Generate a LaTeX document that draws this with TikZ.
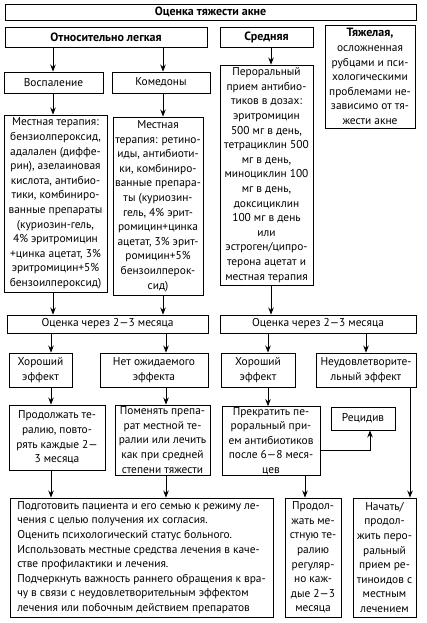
\documentclass[tikz,border=0pt]{standalone}
\usepackage{fontspec}
\setmainfont{PT Sans}
\usetikzlibrary{arrows.meta}
\newcommand\bnode[7][]{\node[bx,minimum width={(#5)-(#3)},minimum height={(#6)-(#4)},#1] (#2) at ({((#3)+(#5))/2},{((#4)+(#6))/2}) {#7};}
\newcommand\hd{\fontsize{12}{14.6}\selectfont\bfseries}
\begin{document}
\begin{tikzpicture}[x=1pt,y=-1pt,
  bx/.style={draw, line width=0.9pt, inner sep=0.5pt, align=center, font=\fontsize{11.4}{14.6}\selectfont},
  arr/.style={-{Stealth[length=7pt,width=5.5pt]}, line width=0.8pt},
  ln/.style={line width=0.8pt}]
\useasboundingbox[fill=white] (0,0) rectangle (426,623);
% column coordinates
\coordinate (xa) at (53,0);
\coordinate (xb) at (163,0);
\coordinate (xc) at (271,0);
\coordinate (xd) at (51,0);
\coordinate (xe) at (166,0);
\coordinate (xf) at (268,0);
\coordinate (xg) at (366,0);
\coordinate (xh) at (305,0);
\coordinate (xi) at (410,0);
\coordinate (xj) at (370,0);
\coordinate (yk) at (0,450);

\bnode{top}{5}{4}{416}{20}{\hd Оценка тяжести акне}
\bnode{light}{5}{27}{207}{47}{\hd Относительно легкая}
\bnode{mid}{220}{27}{313}{47}{\hd Средняя}
\bnode{severe}{325}{25}{415}{128}{{\hd Тяжелая,}\\осложненная\\рубцами и пси-\\хологическими\\проблемами не-\\зависимо от тя-\\жести акне}
\bnode{inflam}{4}{72}{103}{93}{Воспаление}
\bnode{comed}{112}{72}{210}{93}{Комедоны}
\bnode{locL}{4}{115}{107}{292}{Местная терапия:\\бензиолпероксид,\\адалален (диффе-\\рин), азелаиновая\\кислота, антибио-\\тики, комбиниро-\\ванные препараты\\(куриозин-гель,\\4\% эритромицин\\+цинка ацетат, 3\%\\эритромицин+5\%\\бензоилпероксид)}
\bnode{locR}{113}{117}{203}{295}{Местная\\терапия: ретино-\\иды, антибиоти-\\ки, комбиниро-\\ванные препара-\\ты (куриозин-\\гель, 4\% эрит-\\ромицин+цинка\\ацетат, 3\% эрит-\\ромицин+5\%\\бензоилперок-\\сид)}
\bnode{oral}{220}{65}{313}{285}{Пероральный\\прием антибио-\\тиков в дозах:\\эритромицин\\500 мг в день,\\тетрациклин 500\\мг в день,\\миноциклин 100\\мг в день,\\доксициклин\\100 мг в день\\или\\эстроген/ципро-\\терона ацетат и\\местная терапия}
\bnode{evalL}{7}{315}{208}{333}{Оценка через 2—3 месяца}
\bnode{evalR}{220}{315}{416}{333}{Оценка через 2—3 месяца}
\bnode{goodL}{9}{353}{72}{387}{Хороший\\эффект}
\bnode{noeff}{100}{353}{208}{387}{Нет ожидаемого\\эффекта}
\bnode{goodR}{221}{353}{295}{387}{Хороший\\эффект}
\bnode{unsat}{316}{353}{416}{387}{Неудовлетворите-\\льный эффект}
\bnode{contL}{9}{405}{105}{470}{Продолжать те-\\ралию, повто-\\рять каждые 2—\\3 месяца}
\bnode{change}{115}{405}{210}{475}{Поменять препа-\\рат местной те-\\ралии или лечить\\как при средней\\степени тяжести}
\bnode{stop}{222}{407}{320}{475}{Прекратить пе-\\роральный при-\\ем антибиотиков\\после 6—8 меся-\\цев}
\bnode{relapse}{331}{407}{395}{430}{Рецидив}
\bnode[align=left]{prep}{10}{498}{273}{617}{Подготовить пациента и его семью к режиму ле-\\чения с целью получения их согласия.\\Оценить психологический статус больного.\\Использовать местные средства лечения в каче-\\стве профилактики и лечения.\\Подчеркнуть важность раннего обращения к вра-\\чу в связи с неудовлетворительным эффектом\\лечения или побочным действием препаратов}
\bnode{contLoc}{285}{498}{341}{617}{Продол-\\жать ме-\\стную те-\\ралию\\регуляр-\\но каж-\\дые 2—3\\месяца}
\bnode{start}{353}{498}{416}{617}{Начать/\\продол-\\жить перо-\\ральный\\прием ре-\\тиноидов с\\местным\\лечением}

% connectors
\draw[arr] (light.south -| xa) -- (inflam.north -| xa);
\draw[arr] (light.south -| xb) -- (comed.north -| xb);
\draw[arr] (inflam.south -| xa) -- (locL.north -| xa);
\draw[arr] (comed.south -| xb) -- (locR.north -| xb);
\draw[arr] (mid.south -| xc) -- (oral.north -| xc);
\draw[arr] (locL.south -| xa) -- (evalL.north -| xa);
\draw[arr] (locR.south -| xb) -- (evalL.north -| xb);
\draw[arr] (oral.south -| xc) -- (evalR.north -| xc);
\draw[arr] (evalL.south -| xd) -- (goodL.north -| xd);
\draw[arr] (evalL.south -| xe) -- (noeff.north -| xe);
\draw[arr] (evalR.south -| xf) -- (goodR.north -| xf);
\draw[arr] (evalR.south -| xg) -- (unsat.north -| xg);
\draw[arr] (goodL.south -| xd) -- (contL.north -| xd);
\draw[arr] (noeff.south -| xe) -- (change.north -| xe);
\draw[arr] (goodR.south -| xf) -- (stop.north -| xf);
\draw[arr] (stop.east |- yk) -| (relapse.south -| xj);
\draw[arr] (contL.south -| xd) -- (prep.north -| xd);
\draw[arr] (change.south -| xe) -- (prep.north -| xe);
\draw[arr] (stop.south -| xh) -- (contLoc.north -| xh);
\draw[arr] (unsat.south -| xi) -- (start.north -| xi);
\end{tikzpicture}
\end{document}
